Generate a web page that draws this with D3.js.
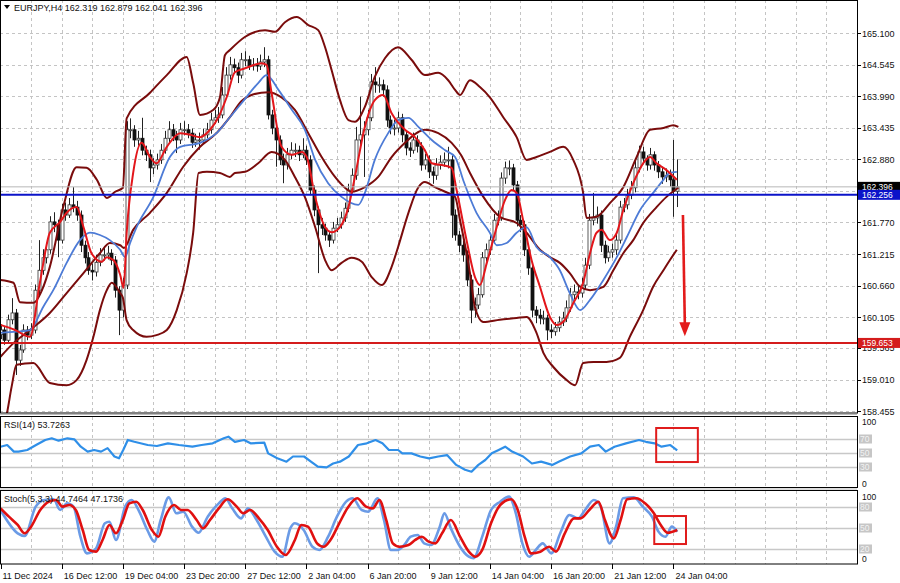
<!DOCTYPE html>
<html><head><meta charset="utf-8">
<script src="https://cdn.jsdelivr.net/npm/d3@7/dist/d3.min.js"></script>
<style>body{margin:0;background:#fff}svg{display:block}text{font-family:"Liberation Sans",Arial,sans-serif}</style>
</head><body><svg id="c" width="900" height="583"></svg>
<script>
// ---------------- DATA ----------------
const symbol = "EURJPY,H4";
const headerOHLC = ["162.319","162.879","162.041","162.396"];
const firstOpen = 159.80;
const closes = [159.88,159.70,160.06,160.18,159.35,159.53,159.88,159.79,159.88,160.58,
160.93,161.15,161.29,161.78,161.73,161.46,161.99,161.90,162.08,162.04,
161.90,161.37,161.15,160.93,160.90,161.07,161.20,161.20,161.23,161.11,
160.58,160.23,160.67,163.40,163.40,163.22,163.25,163.04,162.96,162.73,
162.78,162.87,163.04,163.25,163.40,163.29,163.22,163.40,163.40,163.34,
163.18,163.22,163.22,163.31,163.40,163.57,163.61,163.66,164.01,164.36,
164.54,164.49,164.36,164.63,164.63,164.52,164.54,164.52,164.59,164.63,
163.66,163.43,163.22,162.87,162.78,162.96,163.04,163.04,162.96,163.04,
162.87,162.34,161.99,161.73,161.67,161.55,161.46,161.67,161.73,161.85,
162.02,162.34,162.60,163.22,163.31,163.40,163.61,164.24,164.19,164.19,
164.10,163.57,163.43,163.43,163.61,163.31,163.08,163.04,163.22,163.11,
162.78,162.87,162.66,162.60,162.78,162.83,162.87,162.87,161.90,161.55,
161.37,161.20,160.76,160.23,160.32,160.50,161.15,161.29,161.46,161.81,
161.85,162.55,162.73,162.73,162.43,161.81,161.73,161.29,160.97,160.23,
160.14,160.09,160.09,159.88,159.85,159.92,160.02,160.09,160.27,160.50,
160.55,160.53,160.67,161.02,161.81,161.85,161.90,161.37,161.15,161.25,
161.29,161.46,162.04,162.08,162.25,162.38,162.73,163.01,162.90,162.78,
162.96,162.78,162.66,162.57,162.60,162.52,162.319,162.396];
const highs = [159.98,159.95,160.15,160.44,160.25,159.62,159.98,159.95,160.00,160.68,
161.46,161.30,161.40,161.88,161.95,161.82,162.10,162.12,162.20,162.39,
162.15,161.98,161.45,161.25,161.05,161.20,161.32,161.35,161.36,161.30,
161.18,160.65,160.80,163.55,163.60,163.48,163.38,163.61,163.12,163.05,
162.90,162.98,163.15,163.38,163.55,163.50,163.38,163.52,163.55,163.50,
163.42,163.33,163.35,163.42,163.52,163.70,163.75,163.80,164.15,164.50,
164.68,164.65,164.58,164.75,164.78,164.70,164.66,164.66,164.72,164.85,
164.70,163.75,163.50,163.30,162.98,163.08,163.18,163.16,163.12,163.25,
163.12,162.95,162.42,162.05,161.85,161.75,161.62,161.78,161.85,161.96,
162.12,162.45,162.72,163.45,163.98,163.55,163.75,164.38,164.50,164.32,
164.28,164.18,163.65,163.58,163.72,163.68,163.38,163.18,163.35,163.30,
163.18,162.98,162.95,162.75,162.90,162.95,163.00,163.10,162.95,162.00,
161.62,161.45,161.28,160.85,160.45,160.62,161.25,161.40,161.58,161.92,
161.98,162.65,162.84,162.86,162.80,162.50,161.90,161.80,161.36,161.05,
160.30,160.25,160.22,160.15,159.98,160.02,160.12,160.20,160.40,160.62,
160.68,160.66,160.80,161.15,161.92,162.29,162.05,161.98,161.45,161.36,
161.40,161.58,162.15,162.20,162.36,162.50,162.85,163.12,163.10,162.95,
163.08,163.02,162.85,162.75,162.72,162.70,163.22,162.879];
const lows = [159.72,159.62,159.65,159.98,159.09,159.25,159.48,159.70,159.72,159.82,
160.50,160.85,161.05,161.22,161.60,161.16,161.40,161.80,161.85,161.95,
161.80,161.25,161.05,160.85,160.75,160.82,161.00,161.10,161.12,161.02,
160.45,159.79,160.10,160.60,163.25,163.10,163.12,162.95,162.85,162.48,
162.62,162.70,162.80,162.98,163.18,163.20,162.99,163.15,163.30,163.25,
163.08,163.10,163.05,163.15,163.25,163.33,163.50,163.52,163.60,163.95,
164.28,164.38,164.22,164.30,164.52,164.45,164.44,164.42,164.45,164.50,
163.58,163.32,162.75,162.78,162.46,162.70,162.88,162.92,162.85,162.90,
162.78,162.25,161.88,160.88,161.55,161.45,161.34,161.40,161.60,161.66,
161.78,161.95,162.28,162.52,163.10,162.57,163.30,163.55,164.05,164.05,
163.98,163.45,163.32,163.30,163.35,163.18,162.95,162.92,162.98,163.00,
162.68,162.70,162.55,162.45,162.52,162.70,162.75,162.72,161.50,161.45,
161.25,161.08,160.65,160.00,160.10,160.25,160.45,161.08,161.20,161.40,
161.72,161.80,162.45,162.60,162.32,161.70,161.60,161.18,160.85,160.10,
160.00,159.98,159.98,159.70,159.74,159.78,159.85,159.95,160.02,160.20,
160.42,160.42,160.45,160.60,160.95,161.72,161.75,161.25,161.05,161.08,
161.15,161.20,161.40,161.95,162.00,162.18,162.30,162.65,162.80,162.68,
162.70,162.68,162.55,162.45,162.48,162.40,161.87,162.041];

// indicator lines: [bar index, value]
const maFast = [[0,159.97],[3.8,159.88],[7.7,159.76],[10.3,160.71],[12.9,161.59],[15.6,161.78],[17.3,161.94],[19.9,162.04],[21.7,161.69],[23.8,161.23],[26.5,161.08],[27.8,161.16],[29.5,161.11],[31.3,160.85],[32.2,160.62],[33,161.59],[34.7,162.64],[36.9,163.17],[39.1,162.92],[40.8,162.81],[43.5,163.10],[47,163.34],[49.6,163.31],[52.2,163.27],[54.8,163.40],[57,163.62],[59.2,163.98],[61.3,164.41],[64,164.48],[68.3,164.57],[69.6,164.54],[70.9,164.05],[73.5,163.10],[76.2,162.96],[78.8,163.01],[80.1,162.92],[82.3,162.22],[84.9,161.69],[86.6,161.60],[88.8,161.69],[91,162.04],[92.7,162.57],[95.3,163.45],[97.9,163.92],[100.1,164.01],[102.3,163.69],[105.8,163.40],[108.4,163.27],[111,163.04],[112.8,162.81],[115.4,162.78],[118,162.73],[119.3,162.34],[121.9,161.46],[124.1,160.81],[125.4,160.67],[127.2,161.06],[129.8,161.69],[132,162.17],[133.7,162.34],[135,162.29],[136.7,161.81],[138.9,161.11],[141.1,160.64],[143.7,160.11],[145.5,159.97],[147.6,160.06],[149.8,160.35],[152.4,160.71],[154.2,161.23],[155.9,161.59],[157.2,161.64],[159.4,161.46],[161.2,161.59],[162.9,161.99],[165.5,162.46],[168.1,162.81],[169.9,162.92],[171.6,162.81],[174.2,162.69],[176.9,162.52]];
const maSlow = [[0,159.83],[4.2,159.85],[7.7,159.88],[11.2,160.29],[13.8,160.58],[17.3,161.06],[20.8,161.46],[23.4,161.59],[26,161.55],[28.6,161.46],[31.3,161.29],[32.6,161.16],[33.9,161.41],[35.6,161.69],[40,162.22],[44.3,162.92],[47,163.10],[52.2,163.17],[56.5,163.34],[60,163.62],[63.1,163.87],[67.4,164.22],[69.6,164.36],[72.7,164.10],[76.2,163.75],[79.6,163.40],[82.3,162.87],[85.7,162.46],[89.2,162.22],[93.6,162.08],[95.3,162.29],[97.9,162.87],[101.4,163.34],[104,163.57],[106.7,163.61],[109.3,163.45],[112.8,163.22],[116.3,163.04],[118.9,162.92],[121.1,162.50],[124.5,161.94],[128,161.59],[129.8,161.37],[132.4,161.41],[135,161.59],[137.6,161.69],[140.2,161.34],[143.7,161.16],[146.3,160.93],[148.9,160.53],[151.6,160.23],[154.2,160.41],[157.7,160.76],[161.2,161.16],[163.8,161.51],[167.3,161.99],[170.7,162.29],[173.4,162.52],[175,162.64],[176.9,162.66]];
const bbUpper = [[0,160.76],[3.4,160.71],[5.1,160.37],[8.6,160.36],[11.2,160.64],[12.9,160.99],[16.4,162.04],[19.9,162.74],[22.5,162.73],[25.2,162.52],[27.8,162.20],[30,162.31],[32,162.38],[33,163.60],[39.1,164.05],[43.5,164.36],[48.7,164.68],[50.4,164.22],[52.2,163.66],[55.7,163.75],[57.4,163.97],[58.7,164.71],[60,164.80],[63.9,165.03],[69.2,165.15],[71.8,165.12],[74.4,165.29],[77.5,165.38],[80.5,165.24],[83.1,165.15],[84.9,164.85],[86.6,164.45],[88.8,163.92],[91,163.57],[92.7,163.54],[95.3,163.80],[97.9,164.33],[100.6,164.66],[104,164.85],[107.5,164.63],[111,164.36],[114.5,164.40],[117.1,164.27],[118.9,164.10],[120.2,164.01],[122.8,164.27],[125.4,164.15],[128,163.97],[131.5,163.62],[135,163.27],[137.6,162.87],[140.2,162.92],[143.7,163.01],[147.2,163.10],[149.8,162.87],[152.4,162.29],[153.3,161.85],[155.9,161.87],[159.4,162.11],[162.9,162.39],[166.4,162.92],[169.9,163.40],[173.4,163.43],[176,163.48],[177.3,163.45]];
const bbMiddle = [[0,159.41],[3.4,159.65],[7.7,159.88],[12.9,160.18],[17.3,160.53],[21.7,160.88],[26,161.23],[28.6,161.41],[31.3,161.37],[32.3,161.32],[34.7,161.64],[39.1,161.94],[43.5,162.29],[47.8,162.75],[52.2,163.10],[56.5,163.34],[60,163.62],[63,163.90],[66,164.02],[70.1,164.06],[73.5,163.97],[77,163.75],[80.5,163.34],[84,162.92],[87.5,162.57],[90.1,162.38],[91.8,162.31],[95.3,162.39],[98.8,162.57],[102.3,162.92],[105.8,163.17],[109.3,163.36],[111,163.40],[114.5,163.34],[118,163.17],[120.5,162.95],[122.8,162.64],[126.3,162.22],[130.6,161.87],[135,161.76],[137.6,161.59],[141.1,161.29],[143.7,161.16],[146.3,161.06],[148.9,160.88],[151.6,160.64],[154.2,160.58],[157.7,160.64],[160.3,160.93],[162.9,161.23],[165.5,161.46],[168.1,161.76],[171.6,162.04],[174.2,162.22],[177.3,162.38]];
const bbLower = [[0,158.10],[1.6,158.39],[2.9,158.88],[4.2,159.27],[8.6,159.30],[12.9,158.95],[17.3,158.91],[19.9,159.00],[22.5,159.35],[24.3,159.76],[26,160.23],[27.8,160.58],[29.1,160.71],[31.3,160.53],[32,160.45],[33,160.05],[34.7,159.88],[38.2,159.76],[40.8,159.79],[43.5,159.88],[46.1,160.23],[48.7,160.88],[50.4,161.59],[51.8,162.64],[54,162.66],[57.4,162.64],[60,162.57],[61.3,162.64],[64,162.66],[67.4,162.81],[70.9,163.01],[74.4,162.87],[77,162.57],[79.6,162.22],[82.3,161.69],[84.9,161.11],[86.6,160.93],[89.2,161.06],[91.8,161.15],[94.5,161.08],[97.1,160.81],[99.7,160.67],[102.3,160.99],[104,161.34],[106.7,161.94],[109.3,162.39],[111,162.48],[113.6,162.39],[116.3,162.31],[118.9,162.22],[120.2,161.81],[122.8,160.88],[124.1,160.28],[126.3,160.02],[130.6,160.06],[135,160.09],[137.6,160.11],[140.2,159.83],[142,159.48],[144.6,159.23],[148.1,159.00],[150.3,158.91],[152.4,159.30],[155.1,159.32],[158.5,159.32],[162,159.39],[164.6,159.76],[168.1,160.23],[170.7,160.64],[173.4,160.93],[175.1,161.11],[176.9,161.29]];
const rsi = [[0,59],[1.75,61.4],[3.5,52],[4.7,52],[7,54.3],[9.3,61.4],[11.7,68.6],[13.4,71],[15.2,67.6],[17.5,71],[19.3,69.5],[21,59],[22.8,52],[24.5,54.3],[26.3,52],[28,57],[29.8,45],[31,42.4],[32.1,54.3],[33.3,68.6],[35,66],[38.5,61.4],[40.9,60],[43.8,63.8],[46.7,61.4],[50.2,59],[52.6,61.4],[55.5,63.8],[58.4,71],[59.6,73.3],[61.3,66],[63.7,68.6],[65.4,63.8],[69,64.8],[70,49.5],[72.4,42.4],[74.8,37.6],[76.5,45],[79.4,45],[81.2,37.6],[83,30.5],[85.3,29.5],[87,35],[88.8,37.6],[91.1,45],[93.5,61.4],[95.8,63.8],[98.1,68.6],[99.9,63.8],[101.6,54.3],[104,54.3],[105.1,49.5],[107.5,49.5],[109.8,45],[112.1,42.4],[114.5,45],[116.8,47],[119.2,33],[121.5,26],[123.2,23.3],[125,33],[126.8,40],[128.5,49.5],[130.3,54.3],[132,59],[133.8,52],[136.7,45],[139,35],[141.4,37.6],[144.3,33],[146,37.6],[149,45],[151.9,49.5],[154.2,59],[156.5,61.4],[158.3,52],[160.6,59],[163.6,63.8],[167,68.6],[168.8,66],[171.1,63.8],[172.9,59],[175.2,61.4],[177,53.7]];
const stochMain = [[0,75.7],[4.5,42.4],[6.3,38.6],[9.2,80.5],[11.5,90],[13.9,91],[15.6,75.7],[17.4,85.2],[19.1,80.5],[20.9,37.6],[22.6,13.8],[25,21],[27.3,56.7],[28.5,59],[30.2,32.9],[32.6,80.5],[34.3,90],[36.1,75.7],[38.4,47.1],[40.2,30.5],[41.9,61.4],[44,93.8],[46,71],[47.8,73.3],[50.1,51.9],[51.8,43.3],[54.2,66.2],[57.1,85.2],[58.8,92.4],[60.6,78.1],[62.9,63.8],[64.7,78.1],[67,61.4],[69.4,37.6],[71.7,16.2],[73.7,9],[75.8,49.5],[77,56.7],[79.3,47.1],[81.6,23.3],[83.4,18.6],[85.7,37.6],[88,66.2],[90.4,87.6],[92.1,92.4],[94.5,75.7],[96.2,73.3],[98.6,92.4],[100.3,61.4],[102.1,18.6],[103.8,18.6],[105.6,25.7],[107.3,37.6],[109.1,40],[110.8,28.1],[112.6,25.7],[114.9,51.9],[116.1,71],[117.8,49.5],[120.2,23.3],[122.5,9],[123.7,6.7],[126,37.6],[128.3,75.7],[130.7,87.6],[133,94.8],[134.8,71],[136.5,28.1],[138.3,9],[140,18.6],[141.8,28.1],[144.1,13.8],[146.4,42.4],[148.8,68.6],[151.1,63.8],[152.9,75.7],[155.2,90],[157,80.5],[159.3,28.1],[161,51.9],[162.8,92.4],[165.7,93.8],[168,80.5],[170.4,66.2],[172.1,44.8],[173.9,37.6],[175.6,51.9],[177,44.75]];
const stochSignal = [[0,78.1],[2.2,66.2],[4.5,54.3],[6.3,42.4],[8,51.9],[10.4,75.7],[12.7,87.6],[14.5,90],[16.2,80.5],[18,82.9],[19.7,75.7],[21.5,47.1],[23.2,18.6],[25,16.2],[26.7,32.9],[28.5,54.3],[30.2,42.4],[32,61.4],[33.7,85.2],[35.5,87.6],[37.2,75.7],[39.6,47.1],[41.3,37.6],[43.1,66.2],[45.4,82.9],[47.2,75.7],[48.9,75.7],[51.3,61.4],[53,49.5],[54.8,61.4],[57.1,78.1],[59.4,91],[61.8,80.5],[63.5,71],[65.3,75.7],[67.6,63.8],[69.9,47.1],[72.3,23.3],[74.6,11.4],[77,32.9],[78.7,54.3],[80.4,51.9],[82.8,28.1],[84.5,23.3],[86.3,32.9],[88.6,56.7],[91,80.5],[93.3,92.4],[95.6,80.5],[97.4,78.1],[99.1,90],[100.9,61.4],[102.6,28.1],[104.4,23.3],[106.7,25.7],[108.5,32.9],[110.2,37.6],[112,30.5],[113.7,28.1],[115.5,42.4],[117.8,61.4],[120.2,37.6],[122.5,16.2],[124.2,9],[126,18.6],[128.3,56.7],[130.7,82.9],[133.6,91],[135.3,75.7],[137.1,37.6],[138.8,13.8],[141.2,16.2],[143.5,23.3],[145.3,16.2],[147.6,42.4],[150,63.8],[151.7,63.8],[154,75.7],[156.4,87.6],[158.1,61.4],[160.4,35.2],[162.2,61.4],[163.9,91],[166.3,92.4],[168.6,85.2],[170.9,71],[172.7,54.3],[174.5,43.3],[177,47.17]];

const priceTicks = ["165.100","164.545","163.990","163.435","162.880","162.325","161.770","161.215","160.660","160.105","159.565","159.010","158.455"];
const hiddenTickLabels = ["162.325"]; // covered by the price tags in the reference
const timeLabels = ["11 Dec 2024","16 Dec 12:00","19 Dec 04:00","23 Dec 20:00","27 Dec 12:00","2 Jan 04:00","6 Jan 20:00","9 Jan 12:00","14 Jan 04:00","16 Jan 20:00","21 Jan 12:00","24 Jan 04:00"];
const timeLabelBars = [0,16,32,48,64,80,96,112,128,144,160,176];
const hLines = [{v:162.256,label:"162.256",color:"#0b13c9"},{v:159.653,label:"159.653",color:"#d41c1c"}];
const bidPrice = 162.396;
const rsiLevels = [70,50,30];
const stochLevels = [80,50,20];
const rsiLabel = "RSI(14) 53.7263";
const stochLabel = "Stoch(5,3,3) 44.7464 47.1736";
const arrowPts = [[178.5,161.90],[179.0,159.77]];
const rsiBox = [171.5,182.4,85.7,37.1];
const stochBox = [171,179.3,67.1,27.1];

// ---------------- DRAW ----------------
const svg = d3.select('#c');
const R = 857;
const x = d3.scaleLinear().domain([0,177]).range([0.5,677.2]);
const y = d3.scaleLinear().domain([158.455,165.1]).range([411.1,33]);
const yR = d3.scaleLinear().domain([0,100]).range([488,418]);
const yS = d3.scaleLinear().domain([0,100]).range([563,493]);
const gridCol = "#c4c4c4";

const defs = svg.append('defs');
[['cm',0,0,R,413],['cr',0,417,R,70],['cs',0,491,R,73]].forEach(c=>{
  defs.append('clipPath').attr('id',c[0]).append('rect').attr('x',c[1]).attr('y',c[2]).attr('width',c[3]).attr('height',c[4]);
});

const gridBars = d3.range(8, 230, 8).filter(b => x(b) < R);

// main grid
const gm = svg.append('g').attr('clip-path','url(#cm)');
gm.selectAll('line.h').data(priceTicks).join('line')
  .attr('x1',0).attr('x2',R).attr('y1',d=>Math.round(y(+d))+0.5).attr('y2',d=>Math.round(y(+d))+0.5)
  .attr('stroke',gridCol).attr('stroke-dasharray','3,3');
gm.selectAll('line.v').data(gridBars).join('line')
  .attr('x1',d=>Math.round(x(d))+0.5).attr('x2',d=>Math.round(x(d))+0.5).attr('y1',0).attr('y2',413)
  .attr('stroke',gridCol).attr('stroke-dasharray','3,3');

// indicator grids
function subGrid(clip, yy, levels, top, bot){
  const g = svg.append('g').attr('clip-path',`url(#${clip})`);
  g.selectAll('line.v').data(gridBars).join('line')
    .attr('x1',d=>Math.round(x(d))+0.5).attr('x2',d=>Math.round(x(d))+0.5).attr('y1',top).attr('y2',bot)
    .attr('stroke',gridCol).attr('stroke-dasharray','3,3');
  g.selectAll('line.l').data(levels).join('line')
    .attr('x1',0).attr('x2',R).attr('y1',d=>Math.round(yy(d))+0.5).attr('y2',d=>Math.round(yy(d))+0.5)
    .attr('stroke','#c8c8c8').attr('stroke-width',1.4);
}
subGrid('cr', yR, rsiLevels, 417, 487);
subGrid('cs', yS, stochLevels, 491, 564);

// candles
const opens = closes.map((c,i)=> i===0 ? firstOpen : closes[i-1]);
const bars = closes.map((c,i)=>({i,o:opens[i],h:highs[i],l:lows[i],c}));
const gc = svg.append('g').attr('clip-path','url(#cm)');
gc.selectAll('line.w').data(bars).join('line')
  .attr('x1',d=>Math.round(x(d.i))+0.5).attr('x2',d=>Math.round(x(d.i))+0.5)
  .attr('y1',d=>y(d.h)).attr('y2',d=>y(d.l)).attr('stroke','#222').attr('stroke-width',1);
gc.selectAll('rect.b').data(bars).join('rect')
  .attr('x',d=>Math.round(x(d.i))-1).attr('width',3)
  .attr('y',d=>y(Math.max(d.o,d.c))).attr('height',d=>Math.max(1,Math.abs(y(d.o)-y(d.c))))
  .attr('fill',d=>d.c>=d.o ? '#ffffff' : '#111')
  .attr('stroke',d=>d.c>=d.o ? '#333' : '#111').attr('stroke-width',0.8);

// indicator lines on main chart
const ln = d3.line().x(d=>x(d[0])).y(d=>y(d[1])).curve(d3.curveMonotoneX);
const gl = svg.append('g').attr('clip-path','url(#cm)').attr('fill','none');
[bbUpper,bbMiddle,bbLower].forEach(s=>{
  gl.append('path').attr('d',ln(s)).attr('stroke','#7a0c0c').attr('stroke-width',2).attr('stroke-linejoin','round');
});
gl.append('path').attr('d',ln(maSlow)).attr('stroke','#4d7bd6').attr('stroke-width',1.8);
gl.append('path').attr('d',ln(maFast)).attr('stroke','#e3161b').attr('stroke-width',2);

// bid line + horizontal lines
gl.append('line').attr('x1',0).attr('x2',R).attr('y1',y(bidPrice)).attr('y2',y(bidPrice)).attr('stroke','#b8b8b8').attr('stroke-width',1);
gl.selectAll('line.hl').data(hLines).join('line')
  .attr('x1',0).attr('x2',R).attr('y1',d=>y(d.v)).attr('y2',d=>y(d.v))
  .attr('stroke',d=>d.color).attr('stroke-width',2);

// arrow annotation
const ax1 = x(arrowPts[0][0]), ay1 = y(arrowPts[0][1]), ax2 = x(arrowPts[1][0]), ay2 = y(arrowPts[1][1]);
svg.append('line').attr('x1',ax1).attr('y1',ay1).attr('x2',ax2).attr('y2',ay2-12).attr('stroke','#e31b1b').attr('stroke-width',2.6);
svg.append('path').attr('d',`M${ax2-5.5},${ay2-14} L${ax2+5.5},${ay2-14} L${ax2},${ay2} Z`).attr('fill','#e31b1b');

// RSI
const gr = svg.append('g').attr('clip-path','url(#cr)').attr('fill','none');
gr.append('path').attr('d',d3.line().x(d=>x(d[0])).y(d=>yR(d[1]))(rsi)).attr('stroke','#2f8fe8').attr('stroke-width',2.2).attr('stroke-linejoin','round');

// Stochastic
const gs = svg.append('g').attr('clip-path','url(#cs)').attr('fill','none');
const sl = d3.line().x(d=>x(d[0])).y(d=>yS(d[1])).curve(d3.curveMonotoneX);
gs.append('path').attr('d',sl(stochMain)).attr('stroke','#6b9be6').attr('stroke-width',2.6);
gs.append('path').attr('d',sl(stochSignal)).attr('stroke','#e01010').attr('stroke-width',2.6);

// annotation boxes
[[rsiBox,yR],[stochBox,yS]].forEach(([b,yy])=>{
  svg.append('rect').attr('x',x(b[0])).attr('y',yy(b[2])).attr('width',x(b[1])-x(b[0])).attr('height',yy(b[3])-yy(b[2]))
    .attr('fill','none').attr('stroke','#e01c1c').attr('stroke-width',2);
});

// frames
const fr = svg.append('g').attr('fill','none').attr('stroke','#000');
fr.append('rect').attr('x',0.5).attr('y',0.5).attr('width',R).attr('height',412.5);
fr.append('rect').attr('x',0.5).attr('y',416.5).attr('width',R).attr('height',71);
fr.append('rect').attr('x',0.5).attr('y',490.5).attr('width',R).attr('height',73.5);
svg.append('line').attr('x1',0).attr('x2',R).attr('y1',414.5).attr('y2',414.5).attr('stroke','#bbb');
svg.append('line').attr('x1',0).attr('x2',R).attr('y1',489).attr('y2',489).attr('stroke','#bbb');

// price axis
const pa = svg.append('g');
pa.selectAll('line').data(priceTicks).join('line')
  .attr('x1',R).attr('x2',R+4).attr('y1',d=>Math.round(y(+d))+0.5).attr('y2',d=>Math.round(y(+d))+0.5).attr('stroke','#000');
pa.selectAll('text').data(priceTicks.filter(t=>!hiddenTickLabels.includes(t))).join('text')
  .attr('x',R+5).attr('y',d=>y(+d)+3.5).text(d=>d).attr('font-size',9).attr('fill','#111');

// price labels for lines
function priceTag(v, label, fill, h){
  const g = svg.append('g');
  g.append('rect').attr('x',R+1).attr('y',y(v)-h/2).attr('width',43).attr('height',h).attr('fill',fill);
  g.append('text').attr('x',R+5).attr('y',y(v)+3).text(label).attr('font-size',8.5).attr('fill','#fff');
}
priceTag(bidPrice, headerOHLC[3], '#000', 10);
hLines.forEach(h=>priceTag(h.v, h.label, h.color, 10));

// indicator axes
function subAxis(yy, levels){
  const g = svg.append('g');
  g.append('text').attr('x',R+5).attr('y',yy(100)+7).text('100').attr('font-size',8.5).attr('fill','#111');
  g.append('text').attr('x',R+5).attr('y',yy(0)-1).text('0').attr('font-size',8.5).attr('fill','#111');
  levels.forEach(l=>{
    g.append('rect').attr('x',R+2).attr('y',yy(l)-4.5).attr('width',13).attr('height',9).attr('fill','#c6c6c6');
    g.append('text').attr('x',R+3).attr('y',yy(l)+3).text(l).attr('font-size',8.5).attr('fill','#f2f2f2');
  });
}
subAxis(yR, rsiLevels);
subAxis(yS, stochLevels);

// time axis
const ta = svg.append('g');
ta.selectAll('line').data(timeLabelBars).join('line')
  .attr('x1',d=>Math.round(x(d))+0.5).attr('x2',d=>Math.round(x(d))+0.5).attr('y1',564).attr('y2',569).attr('stroke','#000');
ta.selectAll('text').data(timeLabels).join('text')
  .attr('x',(d,i)=>x(timeLabelBars[i])+2).attr('y',579).text(d=>d).attr('font-size',9).attr('fill','#111');

// titles
svg.append('path').attr('d','M4,5 L10,5 L7,9 Z').attr('fill','#000');
svg.append('text').attr('x',14).attr('y',11).attr('font-size',9).attr('fill','#111')
  .text(symbol + '  ' + headerOHLC.join(' '));
svg.append('text').attr('x',4).attr('y',428).attr('font-size',9).attr('fill','#111').text(rsiLabel);
svg.append('text').attr('x',4).attr('y',502).attr('font-size',9).attr('fill','#111').text(stochLabel);
</script></body></html>
